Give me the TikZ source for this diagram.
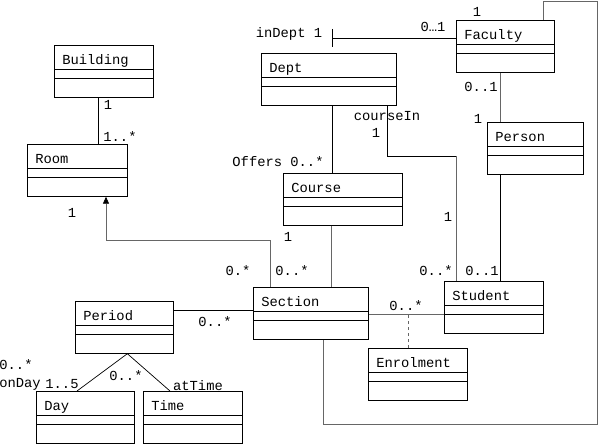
\documentclass[tikz,border=0pt]{standalone}
\usepackage{fontspec}
\setmonofont{Liberation Mono}
\usetikzlibrary{arrows.meta}

\begin{document}
\begin{tikzpicture}[x=1pt,y=-1pt, line width=0.7pt,
    font=\ttfamily\fontsize{13.8}{16}\selectfont,
    umlclass/.style={draw, anchor=north west, inner xsep=8pt, inner ysep=0pt,
      text height=19pt, text depth=33pt, align=left,
      path picture={\draw ([yshift=-24pt]path picture bounding box.north west) -- ([yshift=-24pt]path picture bounding box.north east)
        ([yshift=-33pt]path picture bounding box.north west) -- ([yshift=-33pt]path picture bounding box.north east);}},
    mult/.style={inner sep=0pt, text height=9pt, text depth=0pt},
    assoc/.style={draw=black},
    assocg/.style={draw=black!60}]
\useasboundingbox (0,0) rectangle (599,444);

\node[umlclass, text width=83pt] (building) at (54,45) {Building};
\node[umlclass, text width=84pt] (room) at (27,144) {Room};
\node[umlclass, text width=119pt] (dept) at (261,53) {Dept};
\node[umlclass, text width=82pt] (faculty) at (456,20) {Faculty};
\node[umlclass, text width=80pt] (person) at (487,122) {Person};
\node[umlclass, text width=103pt] (course) at (283,173) {Course};
\node[umlclass, text width=99pt] (section) at (253,287) {Section};
\node[umlclass, text width=83pt] (student) at (444,281) {Student};
\node[umlclass, text width=83pt] (enrolment) at (368,348) {Enrolment};
\node[umlclass, text width=82pt] (period) at (75,301) {Period};
\node[umlclass, text width=82pt] (day) at (36,391) {Day};
\node[umlclass, text width=83pt] (time) at (143,391) {Time};

\coordinate (roomturn) at (106,240);
\coordinate (citurn) at (456,156);
\coordinate (loopne) at (597,1.5);
\coordinate (loopsw) at (323,424);

\draw[assoc] ([xshift=-5.5pt]building.south) coordinate (br) -- (br |- room.north);
\draw[assocg,-{Triangle[length=7pt,width=6pt,color=black]}] ([xshift=17pt]section.north west) |- (roomturn) -- (roomturn |- room.south);
\draw[assoc] ([yshift=-18pt]faculty.north west) -- ++(-124,0) coordinate (indept);
\draw[assoc] ([yshift=9pt]indept) -- ([yshift=-9pt]indept);
\draw[assoc] ([xshift=71pt]dept.south west) coordinate (dc) -- (dc |- course.north);
\draw[assoc] ([xshift=126pt]dept.south west) |- (citurn);
\draw[assocg] (citurn) -- (citurn |- student.north);
\draw[assocg] ([xshift=48pt]course.south west) coordinate (cs) -- (cs |- section.north);
\draw[assocg] ([xshift=44pt]faculty.south west) coordinate (fp) -- (fp |- person.north);
\draw[assoc] ([xshift=13pt]person.south west) coordinate (pst) -- (pst |- student.north);
\draw[assocg] ([xshift=87pt]faculty.north west) |- (loopne) |- (loopsw) -- (loopsw |- section.south);
\draw[assocg] ([yshift=-27pt]section.north east) coordinate (ss) -- (ss -| student.west);
\draw[assocg,dashed] ([xshift=40pt]enrolment.north west) coordinate (en) -- (en |- ss);
\draw[assoc] ([yshift=-9pt]period.north east) coordinate (ps) -- (ps -| section.west);
\draw[assoc] ([xshift=3pt]period.south) -- ([xshift=41pt]day.north west);
\draw[assoc] ([xshift=3pt]period.south) -- ([xshift=27pt]time.north west);

\node[mult] (m-bldg) at (108,105) {1};
\node[mult] (m-room) at (120,137) {1..*};
\node[mult] (m-roomsec) at (72,213) {1};
\node[mult] (m-indept) at (289,33) {inDept 1};
\node[mult] (m-facdept) at (433,27) {0…1};
\node[mult] (m-facloop) at (477,12) {1};
\node[mult] (m-facper) at (481,87) {0..1};
\node[mult] (m-perfac) at (478,119) {1};
\node[mult] (m-coursein) at (387,116) {courseIn};
\node[mult] (m-deptstu) at (376,133) {1};
\node[mult] (m-offers) at (278,162) {Offers 0..*};
\node[mult] (m-stucourse) at (448,217) {1};
\node[mult] (m-coursesec) at (288,237) {1};
\node[mult] (m-seccourse) at (292,271) {0..*};
\node[mult] (m-secroom) at (238,271) {0.*};
\node[mult] (m-studept) at (436,271) {0..*};
\node[mult] (m-stuper) at (482,271) {0..1};
\node[mult] (m-secstu) at (406,306) {0..*};
\node[mult] (m-secper) at (215,322) {0..*};
\node[mult] (m-perday) at (16,365) {0..*};
\node[mult] (m-onday) at (20,383) {onDay};
\node[mult] (m-dayper) at (62,384) {1..5};
\node[mult] (m-pertime) at (126,376) {0..*};
\node[mult] (m-attime) at (198,386) {atTime};
\end{tikzpicture}
\end{document}
